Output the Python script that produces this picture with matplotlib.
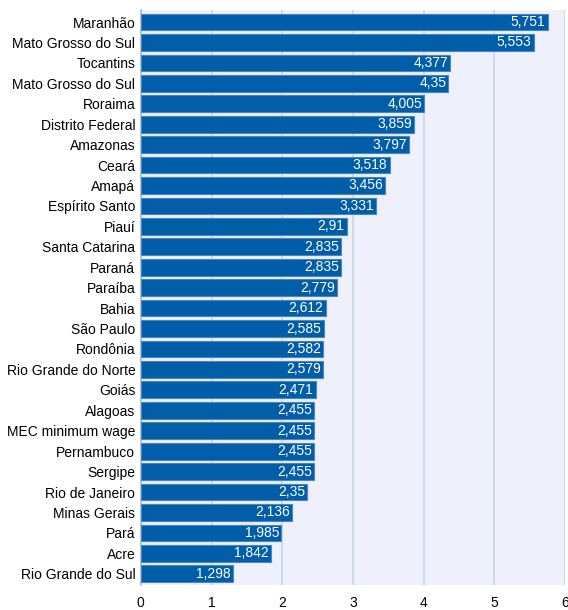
import matplotlib
matplotlib.use("Agg")
import matplotlib.pyplot as plt
import numpy as np

plt.rcParams['font.family'] = ['Liberation Sans', 'DejaVu Sans']

# Estados y valores
estados = ['Maranhão', 'Mato Grosso do Sul', 'Tocantins', 'Mato Grosso do Sul', 'Roraima',
           'Distrito Federal', 'Amazonas', 'Ceará', 'Amapá', 'Espírito Santo', 'Piauí',
           'Santa Catarina', 'Paraná', 'Paraíba', 'Bahia', 'São Paulo', 'Rondônia',
           'Rio Grande do Norte', 'Goiás', 'Alagoas', 'MEC minimum wage', 'Pernambuco',
           'Sergipe', 'Rio de Janeiro', 'Minas Gerais', 'Pará', 'Acre', 'Rio Grande do Sul']
valores = [5.751, 5.553, 4.377, 4.35, 4.005, 3.859, 3.797, 3.518, 3.456, 3.331, 2.91,
           2.835, 2.835, 2.779, 2.612, 2.585, 2.582, 2.579, 2.471, 2.455, 2.455, 2.455,
           2.455, 2.35, 2.136, 1.985, 1.842, 1.298]
etiquetas = ['5,751', '5,553', '4,377', '4,35', '4,005', '3,859', '3,797', '3,518', '3,456',
             '3,331', '2,91', '2,835', '2,835', '2,779', '2,612', '2,585', '2,582', '2,579',
             '2,471', '2,455', '2,455', '2,455', '2,455', '2,35', '2,136', '1,985', '1,842',
             '1,298']

fig = plt.figure(figsize=(5.68, 6.1), dpi=100)
ax = fig.add_axes([0.248, 0.041, 0.747, 0.943])

y = np.arange(len(estados))
ax.barh(y, valores, height=0.82, color='#005da8', edgecolor='#4a86c6', linewidth=0.8, zorder=3)

for yi, v, t in zip(y, valores, etiquetas):
    ax.text(v - 0.03, yi, t, ha='right', va='center', color='white', fontsize=10, zorder=4)

ax.set_facecolor('#eef0fb')
ax.set_xlim(0, 6)
ax.set_ylim(len(estados) - 0.45, -0.6)
ax.set_yticks(y)
ax.set_yticklabels(estados, fontsize=10)
ax.set_xticks(range(7))
ax.tick_params(axis='x', labelsize=10, length=0, pad=8)
ax.tick_params(axis='y', length=0, pad=4)
ax.grid(axis='x', color='#cdd3f0', linewidth=1.2, zorder=0)
for s in ['top', 'right', 'bottom']:
    ax.spines[s].set_visible(False)
ax.spines['left'].set_color('#a9b8dd')
ax.spines['left'].set_linewidth(1.2)

fig.savefig('out.png', dpi=100)
